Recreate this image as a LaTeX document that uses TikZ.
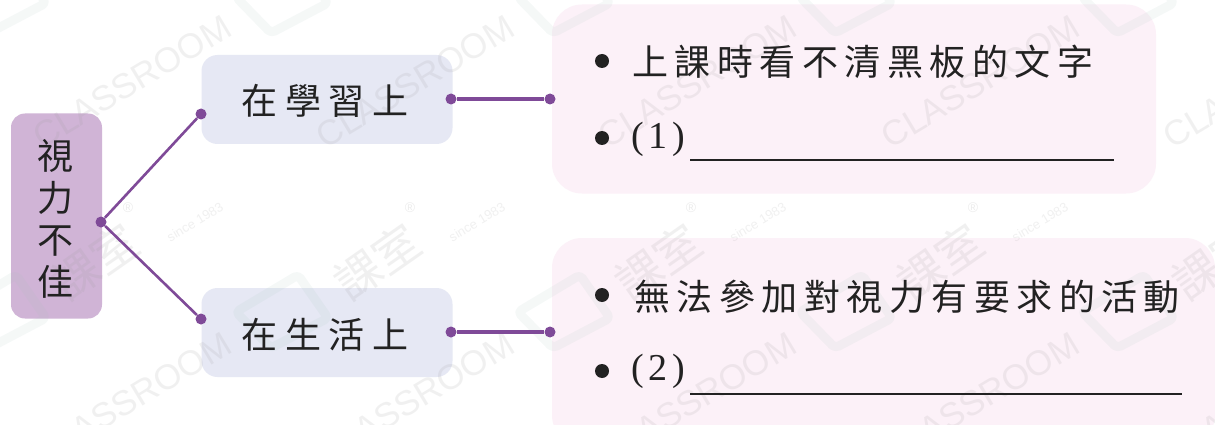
\documentclass[tikz,border=0pt]{standalone}
\usepackage{fontspec}
\setmainfont{Liberation Serif}
\newfontfamily\cjk[LetterSpace=18]{Noto Sans CJK TC}
\newfontfamily\cjkm[LetterSpace=22]{Noto Sans CJK TC}
\newfontfamily\cjkplain{Noto Sans CJK TC}
\newfontfamily\wmsans{Liberation Sans}
\definecolor{rootfill}{HTML}{D0B4D6}
\definecolor{midfill}{HTML}{E6E8F4}
\definecolor{leaffill}{HTML}{FCF1F8}
\definecolor{conn}{HTML}{7F4A98}
\definecolor{ink}{HTML}{222222}
\definecolor{wmg}{HTML}{9A9A9A}
\definecolor{wml}{HTML}{9FC2B8}
\tikzset{
 x=1pt,y=-1pt,
 rootbox/.style={fill=rootfill,rounded corners=14pt,minimum width=91pt,minimum height=205pt,inner sep=0pt},
 midbox/.style={fill=midfill,rounded corners=16pt,minimum width=251pt,minimum height=89pt,inner sep=0pt},
 midtext/.style={text=ink,inner sep=0pt,font=\cjkm\fontsize{36}{36}\selectfont},
 leafbox/.style={fill=leaffill,rounded corners=30pt,minimum width=604pt,inner sep=0pt},
 diag/.style={draw=conn,line width=2.6pt},
 hline/.style={draw=conn,line width=3.2pt},
 dotn/.style={circle,fill=conn,inner sep=0pt,minimum size=11pt},
 lab/.style={anchor=west,text=ink,inner sep=0pt,font=\cjk\fontsize{36}{36}\selectfont},
 num/.style={anchor=west,text=ink,inner sep=0pt,font=\fontsize{38}{38}\selectfont},
 bul/.style={circle,fill=ink,inner sep=0pt,minimum size=14pt},
 blank/.style={draw=ink,line width=2pt},
 wmt/.style={text=wmg,opacity=.14,font=\wmsans\fontsize{35}{35}\selectfont,rotate=31,inner sep=0pt},
 wmk/.style={text=wmg,opacity=.14,font=\cjkplain\fontsize{46}{46}\selectfont,rotate=35,inner sep=0pt},
 wms/.style={text=wmg,opacity=.14,font=\wmsans\fontsize{13}{13}\selectfont,rotate=31,inner sep=0pt},
 wmr/.style={text=wmg,opacity=.18,font=\wmsans\fontsize{14}{14}\selectfont,inner sep=0pt},
 wmlogo/.style={draw=wml,opacity=.1,line width=9pt,rounded corners=4pt,line join=round}
}
\begin{document}
\begin{tikzpicture}
\useasboundingbox (0,0) rectangle (1215,425);
\fill[white] (0,0) rectangle (1215,425);
\node[leafbox,minimum height=189pt] (l1) at (854,99) {};
\path[fill=leaffill,rounded corners=30pt] (552,445) -- (552,238) -- (1215,238) -- (1215,445) -- cycle;
\node[rootbox] (root) at (56.5,216) {};
\node[midbox] (m1) at (327,99.5) {};
\node[midbox] (m2) at (327,332.5) {};
% watermark
\begin{scope}
\clip (0,0) rectangle (1215,425);
\foreach \x in {132,415,697,980,1262} {
 \node[wmt] at (\x,82) {CLASSROOM};
 \node[wmt] at (\x,399) {CLASSROOM};
}
\foreach \x in {95,377,658,940,1215} {
 \node[wmk] at (\x,262) {課室};
 \node[wms] at (\x+100,222) {since 1983};
 \node[wmr] at (\x+33,208) {®};
}
\foreach \x in {-12,270,552,834,1116} {
 \foreach \y in {-3,312} {
  \draw[wmlogo] (\x-34,\y) -- (\x+28,\y-37) -- (\x+58,\y+6) -- (\x+1,\y+36) -- cycle;
 }
}
\end{scope}
\node[text=ink,font=\cjkplain\fontsize{36}{42}\selectfont,align=center,inner sep=0pt] (rt) at (55,219) {視\\力\\不\\佳};
\node[midtext] (t1) at (325,101) {在學習上};
\node[midtext] (t2) at (325,335) {在生活上};
\node[dotn] (dr) at (101,222) {};
\node[dotn] (d1) at (201,114) {};
\node[dotn] (d2) at (201,319) {};
\node[dotn] (d3) at (451,99) {};
\node[dotn] (d4) at (550,99) {};
\node[dotn] (d5) at (451,332) {};
\node[dotn] (d6) at (550,332) {};
\draw[diag] (dr) -- (d1);
\draw[diag] (dr) -- (d2);
\draw[hline] (d3) -- (d4);
\draw[hline] (d5) -- (d6);
\node[bul] (b1) at (602,61) {};
\node[bul] (b2) at (602,138) {};
\node[bul] (b3) at (602,295) {};
\node[bul] (b4) at (602,371) {};
\node[lab] (s1) at (632,62) {上課時看不清黑板的文字};
\node[lab] (s2) at (634,297) {無法參加對視力有要求的活動};
\node[num] (n1) at (631,139) {(\hspace{5pt}1\hspace{5pt})};
\node[num] (n2) at (631,371) {(\hspace{5pt}2\hspace{5pt})};
\coordinate (u1a) at (690,160);\coordinate (u1b) at (1114,160);
\coordinate (u2a) at (690,394);\coordinate (u2b) at (1182,394);
\draw[blank] (u1a) -- (u1b);
\draw[blank] (u2a) -- (u2b);
\end{tikzpicture}
\end{document}
